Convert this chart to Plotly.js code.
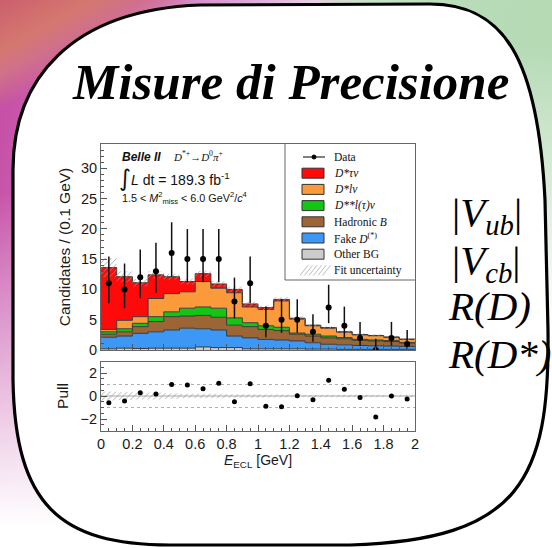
<!DOCTYPE html>
<html><head><meta charset="utf-8">
<script src="https://cdn.plot.ly/plotly-3.0.1.min.js"></script>
<style>
html,body{margin:0;padding:0;width:552px;height:548px;overflow:hidden;}
body{
 background:
  linear-gradient(151deg, #cc5f6e 0%, #d5776f 6%, #d0708a 9%, rgba(208,112,160,0) 13%) left top / 552px 548px no-repeat,
  linear-gradient(to bottom, rgba(255,255,255,0) 0%, rgba(255,255,255,0) 35%, rgba(255,255,255,1) 96%) left top / 276px 548px no-repeat,
  linear-gradient(to bottom, rgba(255,255,255,0) 0%, rgba(255,255,255,0) 8%, rgba(255,255,255,1) 60%) right top / 276px 548px no-repeat,
  linear-gradient(100deg, #c44aa2 0%, #cf70bd 20%, #dea8d8 38%, #e6cfe2 48%, #c9e2c6 56%, #b7dbb6 75%, #b3d9b2 100%) left top / 552px 548px no-repeat;
}
#chart{width:552px;height:548px;}
</style></head><body><div id="chart"></div>
<script>
// ---- data ----
const binCenters = [0.05,0.15,0.25,0.35,0.45,0.55,0.65,0.75,0.85,0.95,1.05,1.15,1.25,1.35,1.45,1.55,1.65,1.75,1.85,1.95];
const otherBG   = [0.2,0.3,0.25,0.3,0.3,0.3,0.5,0.4,0.4,0.2,0.2,0.2,0.2,0.15,0.15,0.1,0.1,0.1,0.1,0.1];
const fakeD     = [1.9,2.0,2.5,2.7,3.0,3.3,3.0,2.9,1.9,1.8,1.55,1.45,1.3,1.05,0.8,0.75,0.65,0.6,0.55,0.5];
const hadronicB = [0.5,0.7,1.1,1.7,2.2,2.0,2.2,2.1,1.8,1.85,1.65,1.55,1.1,1.1,1.05,1.0,0.85,0.8,0.75,0.55];
const dssLnu    = [0.4,0.5,0.55,0.8,0.8,1.3,1.4,1.5,1.2,0.65,0.6,0.55,0.2,0.3,0.3,0.2,0.15,0.15,0.15,0.1];
const dsLnu     = [0.4,1.4,1.1,3.0,3.0,2.7,4.2,3.3,4.15,2.6,2.7,4.35,2.3,1.4,1.3,0.9,0.75,0.7,0.55,0.5];
const dsTaunu   = [10.2,7.2,5.6,3.9,2.8,1.7,1.3,0.7,0.55,0.5,0.3,0.25,0.15,0.1,0.1,0.05,0.05,0.05,0.05,0.05];
const fitUnc    = [1.6,0.9,0.6,0.6,0.5,0.5,0.5,0.5,0.5,0.4,0.35,0.35,0.3,0.25,0.2,0.2,0.2,0.2,0.2,0.2];
const dataCounts = [11,10,12,13,16,15,15,15,8,11,4,5,5,3,7,4,2,0,2,1];
const dataErrHi  = [4.42,4.27,4.58,4.71,5.08,4.96,4.96,4.96,3.95,4.42,3.16,3.38,3.38,2.92,3.77,3.16,2.64,1.84,2.64,2.30];
const dataErrLo  = [3.27,3.11,3.41,3.56,3.96,3.83,3.83,3.83,2.77,3.27,1.91,2.16,2.16,1.63,2.58,1.91,1.29,0,1.29,0.83];
const pullValues = [-0.58,-0.43,0.29,0.17,1.01,0.96,0.64,1.1,-0.49,1.07,-0.9,-0.93,0.03,-0.32,1.36,0.58,-0.14,-1.83,0.0,-0.26];
const pullUnc    = [0.4,0.35,0.3,0.3,0.25,0.2,0.2,0.2,0.15,0.15,0.12,0.12,0.1,0.1,0.1,0.1,0.1,0.1,0.1,0.1];
const legendLabels = ['Data','<i>D*τν</i>','<i>D*lν</i>','<i>D**l(τ)ν</i>','Hadronic <i>B</i>','Fake <i>D</i><sup>(*)</sup>','Other BG','Fit uncertainty'];
const rightLabels = ['|<i>V</i><sub><i>ub</i></sub>|','|<i>V</i><sub><i>cb</i></sub>|','<i>R(D)</i>','<i>R(D*)</i>'];

// ---- helpers ----
const W=552,H=548;
const px = x => x/W, py = y => 1 - y/H;
const P = (x,y) => px(x).toFixed(5)+','+py(y).toFixed(5);
const sans = 'Liberation Sans, Arial, Helvetica, sans-serif';
const serif = 'Liberation Serif, Times New Roman, serif';
const frameCol = '#666';
const halfBin = 0.05;
const edges = binCenters.map(c=>c-halfBin).concat([binCenters[binCenters.length-1]+halfBin]);
const stepY = arr => arr.concat([arr[arr.length-1]]);

const comps = [
 {vals:otherBG,   color:'#cccccc'},
 {vals:fakeD,     color:'#3d98f5'},
 {vals:hadronicB, color:'#9b6535'},
 {vals:dssLnu,    color:'#13c613'},
 {vals:dsLnu,     color:'#fb9a3b'},
 {vals:dsTaunu,   color:'#ff0a0a'}
];
const traces = [];
let cum = binCenters.map(()=>0);
comps.forEach((c,k)=>{
  cum = cum.map((b,i)=>b+c.vals[i]);
  traces.push({type:'scatter', mode:'lines', x:edges, y:stepY(cum), line:{shape:'hv', color:'#3a3a3a', width:1},
    fill:k===0?'tozeroy':'tonexty', fillcolor:c.color, xaxis:'x', yaxis:'y', hoverinfo:'skip'});
});
const total = cum;
const hatchPattern = {shape:'/', fgcolor:'#9c9c9c', bgcolor:'rgba(0,0,0,0)', fillmode:'replace', size:4, solidity:0.2};
traces.push({type:'scatter', mode:'lines', x:edges, y:stepY(total.map((t,i)=>t-fitUnc[i])), line:{shape:'hv', width:0},
  xaxis:'x', yaxis:'y', hoverinfo:'skip'});
traces.push({type:'scatter', mode:'lines', x:edges, y:stepY(total.map((t,i)=>t+fitUnc[i])), line:{shape:'hv', width:0},
  fill:'tonexty', fillcolor:'rgba(0,0,0,0)', fillpattern:hatchPattern, xaxis:'x', yaxis:'y', hoverinfo:'skip'});
traces.push({type:'scatter', mode:'markers', x:binCenters, y:dataCounts, xaxis:'x', yaxis:'y',
  marker:{color:'#000', size:6},
  error_y:{type:'data', symmetric:false, array:dataErrHi, arrayminus:dataErrLo, color:'#111', thickness:1.5, width:0}});
// pull
traces.push({type:'scatter', mode:'lines', x:edges, y:stepY(pullUnc.map(u=>-u)), line:{shape:'hv', width:0},
  xaxis:'x2', yaxis:'y2', hoverinfo:'skip'});
traces.push({type:'scatter', mode:'lines', x:edges, y:stepY(pullUnc), line:{shape:'hv', width:0},
  fill:'tonexty', fillcolor:'rgba(0,0,0,0)', fillpattern:hatchPattern, xaxis:'x2', yaxis:'y2', hoverinfo:'skip'});
traces.push({type:'scatter', mode:'markers', x:binCenters, y:pullValues, xaxis:'x2', yaxis:'y2',
  marker:{color:'#000', size:5}});

// ---- shapes ----
const shapes = [];
const boxPath = `M ${P(13,380)} L ${P(13,170)} C ${P(13,80)} ${P(70,10)} ${P(200,5)} L ${P(430,4)} C ${P(505,4)} ${P(538,60)} ${P(545,200)} L ${P(548,330)} C ${P(550,480)} ${P(520,540)} ${P(350,545)} L ${P(170,545)} C ${P(60,545)} ${P(15,505)} ${P(13,380)} Z`;
shapes.push({type:'path', xref:'paper', yref:'paper', path:boxPath, fillcolor:'#ffffff', line:{width:0}, layer:'below'});
shapes.push({type:'path', xref:'paper', yref:'paper', path:boxPath, line:{color:'#000', width:3.2}, layer:'above'});
// pull reference lines
[[1,'dot','#b0b0b0'],[-1,'dot','#b0b0b0'],[0,'solid','#a8a8a8']].forEach(([v,d,c])=>{
  shapes.push({type:'line', xref:'x2', yref:'y2', x0:0, x1:2, y0:v, y1:v, line:{color:c, width:1, dash:d}, layer:'below'});
});
// legend box
shapes.push({type:'line', xref:'paper', yref:'paper', x0:px(285), x1:px(285), y0:py(144), y1:py(280), line:{color:frameCol,width:1}});
shapes.push({type:'line', xref:'paper', yref:'paper', x0:px(285), x1:px(415), y0:py(280), y1:py(280), line:{color:frameCol,width:1}});
const rowY = i => 157 + i*16.2;
shapes.push({type:'line', xref:'paper', yref:'paper', x0:px(303), x1:px(325), y0:py(rowY(0)), y1:py(rowY(0)), line:{color:'#000',width:1}});
shapes.push({type:'circle', xref:'paper', yref:'paper', x0:px(312), x1:px(316), y0:py(rowY(0)-2), y1:py(rowY(0)+2), fillcolor:'#000', line:{color:'#000',width:1}});
const swatchCols = ['#ff0a0a','#fb9a3b','#13c613','#9b6535','#3d98f5','#cccccc'];
swatchCols.forEach((c,k)=>{
  const y = rowY(k+1);
  shapes.push({type:'rect', xref:'paper', yref:'paper', x0:px(302), x1:px(324), y0:py(y+5), y1:py(y-5), fillcolor:c, line:{color:'#333',width:1}});
});
for(let k=0;k<6;k++){
  const y = rowY(7);
  const x0 = 300 + k*4.5;
  shapes.push({type:'line', xref:'paper', yref:'paper', x0:px(x0), x1:px(x0+8), y0:py(y+5), y1:py(y-5), line:{color:'#bdbdbd',width:1}});
}

// ---- annotations ----
const annotations = [];
annotations.push({xref:'paper', yref:'paper', x:px(290), y:py(82), xanchor:'center', yanchor:'middle', showarrow:false,
  text:'<b><i>Misure di Precisione</i></b>', font:{family:serif, size:51, color:'#000'}});
legendLabels.forEach((t,i)=>{
  annotations.push({xref:'paper', yref:'paper', x:px(332), y:py(rowY(i)), xanchor:'left', yanchor:'middle', showarrow:false,
    text:t, font:{family:serif, size:11.5, color:'#111'}});
});
annotations.push({xref:'paper', yref:'paper', x:px(120), y:py(157), xanchor:'left', yanchor:'middle', showarrow:false,
  text:'<b><i>Belle II</i></b>', font:{family:sans, size:12, color:'#111'}});
annotations.push({xref:'paper', yref:'paper', x:px(171), y:py(156), xanchor:'left', yanchor:'middle', showarrow:false,
  text:'<i>D</i><sup>*+</sup>→<i>D</i><sup>0</sup><i>π</i><sup>+</sup>', font:{family:serif, size:11, color:'#111'}});
annotations.push({xref:'paper', yref:'paper', x:px(117), y:py(178), xanchor:'left', yanchor:'middle', showarrow:false,
  text:'∫', font:{family:'DejaVu Sans, sans-serif', size:23, color:'#111'}});
annotations.push({xref:'paper', yref:'paper', x:px(129), y:py(179), xanchor:'left', yanchor:'middle', showarrow:false,
  text:'<i>L</i> dt = 189.3 fb<sup>-1</sup>', font:{family:sans, size:14, color:'#111'}});
annotations.push({xref:'paper', yref:'paper', x:px(120), y:py(198), xanchor:'left', yanchor:'middle', showarrow:false,
  text:'1.5 &lt; <i>M</i><sup>2</sup><sub>miss</sub> &lt; 6.0 GeV<sup>2</sup>/<i>c</i><sup>4</sup>', font:{family:sans, size:10.8, color:'#111'}});
const rightY = [215, 263, 306, 354];
const rightX = [450, 450, 446, 446];
rightLabels.forEach((t,i)=>{
  annotations.push({xref:'paper', yref:'paper', x:px(rightX[i]), y:py(rightY[i]), xanchor:'left', yanchor:'middle', showarrow:false,
    text:t, font:{family:serif, size:41, color:'#000'}});
});

const tickFont = {family:sans, size:14.5, color:'#1a1a1a'};
const commonX = {range:[0,2], dtick:0.2, tick0:0, ticks:'inside', ticklen:6, tickcolor:'#555', tickwidth:1,
  minor:{dtick:0.05, tick0:0, ticks:'inside', ticklen:3, tickcolor:'#555'},
  showline:true, linecolor:frameCol, linewidth:1, mirror:true, showgrid:false, zeroline:false, fixedrange:true};
const layout = {
  width:W, height:H, margin:{l:0,r:0,t:0,b:0,pad:0}, autosize:false,
  paper_bgcolor:'rgba(0,0,0,0)', plot_bgcolor:'rgba(0,0,0,0)',
  showlegend:false,
  xaxis:Object.assign({}, commonX, {domain:[px(101),px(415)], anchor:'y', showticklabels:false}),
  yaxis:{domain:[py(350),py(144)], anchor:'x', range:[0,34], dtick:5, tick0:0, ticks:'inside', ticklen:6, tickcolor:'#555',
    minor:{dtick:1, ticks:'inside', ticklen:3, tickcolor:'#555'},
    showline:true, linecolor:frameCol, mirror:true, showgrid:false, zeroline:false, tickfont:tickFont,
    title:{text:'Candidates / (0.1 GeV)', font:{family:sans, size:15.5, color:'#1a1a1a'}, standoff:6}},
  xaxis2:Object.assign({}, commonX, {domain:[px(101),px(415)], anchor:'y2', showticklabels:true, tickfont:tickFont,
    title:{text:'<i>E</i><sub>ECL</sub> [GeV]', font:{family:sans, size:14, color:'#1a1a1a'}, standoff:4}}),
  yaxis2:{domain:[py(430.5),py(361.5)], anchor:'x2', range:[-3,3], dtick:2, tick0:0, ticks:'inside', ticklen:6, tickcolor:'#555',
    minor:{dtick:0.5, ticks:'inside', ticklen:3, tickcolor:'#555'},
    showline:true, linecolor:frameCol, mirror:true, showgrid:false, zeroline:false, tickfont:tickFont,
    title:{text:'Pull', font:{family:sans, size:15.5, color:'#1a1a1a'}, standoff:8}},
  shapes:shapes, annotations:annotations
};
Plotly.newPlot('chart', traces, layout, {staticPlot:true, displayModeBar:false});
</script></body></html>
